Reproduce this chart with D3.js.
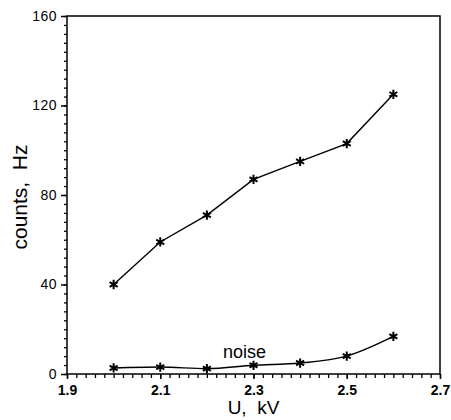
<!DOCTYPE html>
<html>
<head>
<meta charset="utf-8">
<script src="https://cdn.jsdelivr.net/npm/d3@7"></script>
<style>
  body { margin: 0; background: #fff; }
  text { font-family: "Liberation Sans", Arial, sans-serif; fill: #000; }
</style>
</head>
<body>
<div id="chart"></div>
<script>
// data
var voltage = [2.0, 2.1, 2.2, 2.3, 2.4, 2.5, 2.6]
var counts = [40, 59, 71, 87, 95, 103, 125]
var noise = [2.7, 3.1, 2.4, 3.9, 4.9, 8.0, 16.8]
var xTicks = [1.9, 2.1, 2.3, 2.5, 2.7]
var yTicks = [0, 40, 80, 120, 160]

var width = 451, height = 420
var margin = { top: 16, right: 11, bottom: 46, left: 67 }

const svg = d3.select("#chart")
    .append("svg")
    .attr("width", width)
    .attr("height", height)

var x = d3.scaleLinear().domain([1.9, 2.7]).range([margin.left, width - margin.right])
var y = d3.scaleLinear().domain([0, 160]).range([height - margin.bottom, margin.top])

// minor ticks
var xMinor = d3.range(1.9, 2.7001, 0.02)
var yMinor = d3.range(0, 160.001, 4)

svg.append("g")
    .attr("transform", "translate(0," + y(0) + ")")
    .call(d3.axisBottom(x).tickValues(xMinor).tickSize(4).tickFormat(""))
    .call(g => g.select(".domain").remove())
    .selectAll("line").attr("stroke-width", 1.3)

svg.append("g")
    .attr("transform", "translate(" + x(1.9) + ",0)")
    .call(d3.axisLeft(y).tickValues(yMinor).tickSize(3).tickFormat(""))
    .call(g => g.select(".domain").remove())
    .selectAll("line").attr("stroke-width", 1.3)

// major ticks + labels
var xAxis = svg.append("g")
    .attr("transform", "translate(0," + y(0) + ")")
    .call(d3.axisBottom(x).tickValues(xTicks).tickSize(5).tickPadding(6).tickFormat(d3.format(".1f")))
xAxis.select(".domain").remove()
xAxis.selectAll("line").attr("stroke-width", 1.5)
xAxis.selectAll("text").style("font-size", "14px").style("font-weight", "bold").attr("fill", "#000")

var yAxis = svg.append("g")
    .attr("transform", "translate(" + x(1.9) + ",0)")
    .call(d3.axisLeft(y).tickValues(yTicks).tickSize(6).tickPadding(4))
yAxis.select(".domain").remove()
yAxis.selectAll("line").attr("stroke-width", 1.5)
yAxis.selectAll("text").style("font-size", "14px").attr("fill", "#000").attr("letter-spacing", "0.5px")

// frame
svg.append("rect")
    .attr("x", x(1.9))
    .attr("y", y(160))
    .attr("width", x(2.7) - x(1.9))
    .attr("height", y(0) - y(160))
    .attr("fill", "none")
    .attr("stroke", "#000")
    .attr("stroke-width", 1.5)

var countLine = d3.line().x((d, i) => x(voltage[i])).y(d => y(d))
var noiseLine = d3.line().x((d, i) => x(voltage[i])).y(d => y(d)).curve(d3.curveMonotoneX)

svg.append("path")
    .attr("d", countLine(counts))
    .attr("fill", "none")
    .attr("stroke", "#000")
    .attr("stroke-width", 1.4)

svg.append("path")
    .attr("d", noiseLine(noise))
    .attr("fill", "none")
    .attr("stroke", "#000")
    .attr("stroke-width", 1.4)

var star = d3.symbol().type(d3.symbolAsterisk).size(60)

svg.selectAll(".pt-counts")
    .data(counts)
    .enter().append("path")
    .attr("class", "pt-counts")
    .attr("d", star)
    .attr("transform", (d, i) => "translate(" + x(voltage[i]) + "," + y(d) + ")")
    .attr("fill", "none")
    .attr("stroke", "#000")
    .attr("stroke-width", 2)

svg.selectAll(".pt-noise")
    .data(noise)
    .enter().append("path")
    .attr("class", "pt-noise")
    .attr("d", star)
    .attr("transform", (d, i) => "translate(" + x(voltage[i]) + "," + y(d) + ")")
    .attr("fill", "none")
    .attr("stroke", "#000")
    .attr("stroke-width", 2)

svg.append("text")
    .text("noise")
    .attr("x", 223)
    .attr("y", 358)
    .style("font-size", "18px")

svg.append("text")
    .text("U,  kV")
    .attr("x", (x(1.9) + x(2.7)) / 2)
    .attr("y", 414)
    .attr("text-anchor", "middle")
    .attr("xml:space", "preserve")
    .style("white-space", "pre")
    .style("font-size", "19px")

svg.append("text")
    .text("counts,  Hz")
    .attr("transform", "translate(27,197) rotate(-90)")
    .attr("text-anchor", "middle")
    .style("white-space", "pre")
    .style("font-size", "21px")
</script>
</body>
</html>
